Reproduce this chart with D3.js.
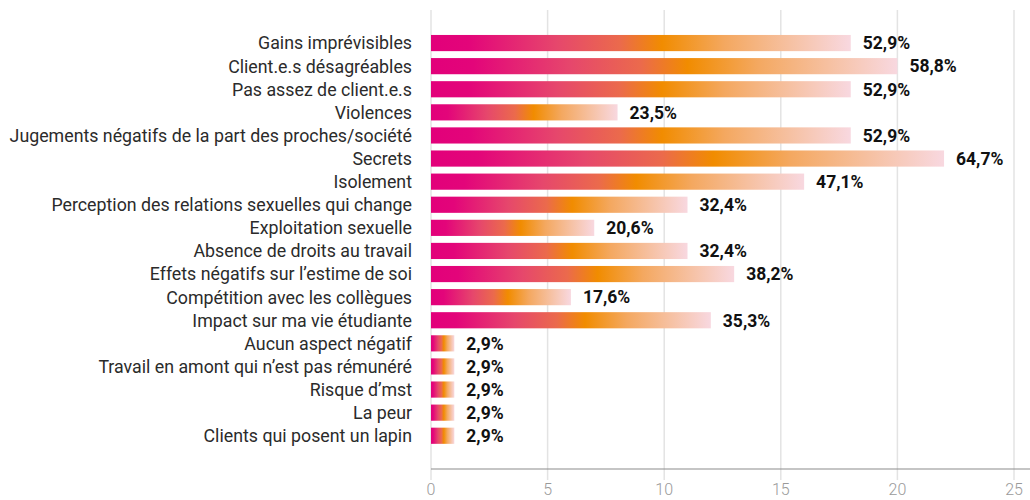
<!DOCTYPE html>
<html>
<head>
<meta charset="utf-8">
<script src="https://cdnjs.cloudflare.com/ajax/libs/d3/7.8.5/d3.min.js"></script>
<style>
  body { margin: 0; background: white; }
  #chart { width: 1030px; height: 500px; }
</style>
</head>
<body>
<div id="chart"></div>
<script>
// categories (top to bottom)
let categories = [
  "Gains imprévisibles",
  "Client.e.s désagréables",
  "Pas assez de client.e.s",
  "Violences",
  "Jugements négatifs de la part des proches/société",
  "Secrets",
  "Isolement",
  "Perception des relations sexuelles qui change",
  "Exploitation sexuelle",
  "Absence de droits au travail",
  "Effets négatifs sur l’estime de soi",
  "Compétition avec les collègues",
  "Impact sur ma vie étudiante",
  "Aucun aspect négatif",
  "Travail en amont qui n’est pas rémunéré",
  "Risque d’mst",
  "La peur",
  "Clients qui posent un lapin"
];

// number of answers
let counts = [18, 20, 18, 8, 18, 22, 16, 11, 7, 11, 13, 6, 12, 1, 1, 1, 1, 1];

// labels shown next to the bars
let percents = ["52,9%", "58,8%", "52,9%", "23,5%", "52,9%", "64,7%", "47,1%", "32,4%",
  "20,6%", "32,4%", "38,2%", "17,6%", "35,3%", "2,9%", "2,9%", "2,9%", "2,9%", "2,9%"];

let xTicks = [0, 5, 10, 15, 20, 25];

let w = 1030;
let h = 500;
let left = 431;
let axisY = 469;

let svg = d3.select("#chart")
  .append("svg")
    .attr("width", w)
    .attr("height", h)
    .style("font-family", "Roboto, sans-serif");

// gradient, relative to each bar
let grad = svg.append("defs").append("linearGradient")
  .attr("id", "barGrad")
  .attr("x1", "0").attr("x2", "1").attr("y1", "0").attr("y2", "0");
[
  [0, "#e2007a"],
  [0.09, "#e3057a"],
  [0.3, "#e6476c"],
  [0.45, "#eb6a4c"],
  [0.55, "#f18c00"],
  [0.7, "#f4a860"],
  [1, "#f8d8e0"]
].forEach(function(s){
  grad.append("stop").attr("offset", s[0]).attr("stop-color", s[1]);
});

let x = d3.scaleLinear()
  .domain([0, 25])
  .range([left, 1014]);

let y = d3.scaleBand()
  .domain(categories)
  .range([31.5, 447.3])
  .paddingInner(0.3)
  .paddingOuter(0.15);

//grid
svg.append("g")
  .selectAll("line")
  .data(xTicks)
  .enter()
  .append("line")
    .attr("x1", d => x(d))
    .attr("x2", d => x(d))
    .attr("y1", 10)
    .attr("y2", 480)
    .style("stroke", "#e3e3e3")
    .style("stroke-width", 1.5);

// axis line
svg.append("line")
  .attr("x1", left)
  .attr("x2", w)
  .attr("y1", axisY)
  .attr("y2", axisY)
  .style("stroke", "#8c8c8c")
  .style("stroke-width", 1.2);

// tick labels
svg.append("g")
  .selectAll("text")
  .data(xTicks)
  .enter()
  .append("text")
    .attr("x", d => x(d))
    .attr("y", 495)
    .attr("text-anchor", "middle")
    .style("font-size", "16px")
    .style("font-weight", 300)
    .style("fill", "#9a9a9a")
    .text(d => d);

//bars
svg.append("g")
  .selectAll("rect")
  .data(counts)
  .enter()
  .append("rect")
    .attr("x", x(0))
    .attr("y", (d, i) => y(categories[i]))
    .attr("width", d => x(d) - x(0))
    .attr("height", y.bandwidth())
    .style("fill", "url(#barGrad)");

// category labels
svg.append("g")
  .selectAll("text")
  .data(categories)
  .enter()
  .append("text")
    .attr("x", 412)
    .attr("y", d => y(d) + y.bandwidth() / 2)
    .attr("dy", "0.36em")
    .attr("text-anchor", "end")
    .style("font-size", "17.8px")
    .style("fill", "#2b2b2b")
    .text(d => d);

// value labels
svg.append("g")
  .selectAll("text")
  .data(counts)
  .enter()
  .append("text")
    .attr("x", d => x(d) + 12)
    .attr("y", (d, i) => y(categories[i]) + y.bandwidth() / 2)
    .attr("dy", "0.36em")
    .style("font-size", "17.5px")
    .style("font-weight", "bold")
    .style("fill", "#111")
    .text((d, i) => percents[i]);
</script>
</body>
</html>
